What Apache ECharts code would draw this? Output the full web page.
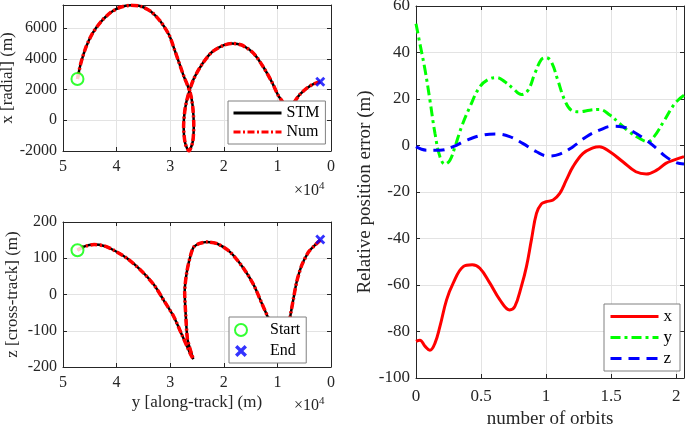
<!DOCTYPE html>
<html>
<head>
<meta charset="utf-8">
<script src="https://cdn.jsdelivr.net/npm/echarts@6/dist/echarts.min.js"></script>
<style>
  html, body { margin: 0; padding: 0; background: #fff; }
  #main { width: 685px; height: 424px; }
</style>
</head>
<body>
<div id="main"></div>
<script>
// top-left: along-track (x1e4 m) vs radial (m)
var topAlong  = [4.73, 4.67, 4.57, 4.45, 4.29, 4.11, 3.92, 3.74, 3.55, 3.36, 3.18, 3.02, 2.92, 2.83, 2.75, 2.68, 2.62, 2.58, 2.56, 2.58, 2.65, 2.72, 2.75, 2.72, 2.66, 2.56, 2.40, 2.22, 2.00, 1.85, 1.66, 1.44, 1.26, 1.10, 0.98, 0.915, 0.85, 0.79, 0.73, 0.67, 0.576, 0.45, 0.33, 0.20];
var topRadial = [2686, 3676, 4772, 5656, 6422, 7016, 7370, 7480, 7414, 7084, 6422, 5544, 4600, 3700, 2900, 2300, 1700, 900, -300, -1400, -2000, -1500, -400, 800, 1700, 2700, 3676, 4442, 4884, 4996, 4884, 4336, 3452, 2462, 1584, 1254, 850, 500, 850, 1254, 1696, 2090, 2356, 2508];

// bottom-left: along-track (x1e4 m) vs cross-track (m)
var botAlong = [4.73, 4.63, 4.42, 4.23, 4.05, 3.80, 3.55, 3.30, 3.12, 2.93, 2.78, 2.68, 2.62, 2.57, 2.63, 2.68, 2.71, 2.73, 2.69, 2.62, 2.56, 2.45, 2.31, 2.12, 1.88, 1.63, 1.44, 1.29, 1.18, 1.06, 0.96, 0.887, 0.84, 0.80, 0.762, 0.70, 0.64, 0.545, 0.42, 0.30, 0.20];
var botCross = [122, 131, 137.6, 134, 122, 99, 67, 26, -16, -62, -112, -145, -165, -178, -150, -121, -57, 7, 62, 108, 131, 141, 145, 140, 117, 72, 26, -25, -62, -110, -150, -181, -140, -100, -62, -11, 35, 81, 117, 136, 150];

// start / end markers
var startPt = { along: 4.73, radial: 2686, cross: 122 };
var endPt   = { along: 0.20, radial: 2508, cross: 152 };

// right: relative position error (m) vs number of orbits
var errXOrbit = [0, 0.03, 0.07, 0.107, 0.146, 0.184, 0.235, 0.286, 0.363, 0.432, 0.491, 0.568, 0.645, 0.72, 0.76, 0.81, 0.849, 0.887, 0.926, 0.964, 1.0, 1.054, 1.105, 1.156, 1.207, 1.284, 1.36, 1.41, 1.49, 1.59, 1.69, 1.77, 1.85, 1.92, 1.97, 2.06];
var errX      = [-84.3, -83.8, -86.4, -88.1, -85, -77.8, -66.4, -59.2, -52.1, -51.3, -52.8, -59.2, -66.4, -70.7, -69.2, -60.6, -52.1, -40.6, -29.2, -25.1, -24.2, -23.4, -20.6, -14.8, -9.1, -3.4, -1.0, -0.5, -2.7, -7.0, -11.3, -12.3, -10.6, -7.7, -6.5, -4.8];
var errYOrbit = [0, 0.03, 0.07, 0.107, 0.146, 0.184, 0.222, 0.261, 0.3, 0.35, 0.414, 0.49, 0.555, 0.619, 0.683, 0.747, 0.81, 0.862, 0.913, 0.964, 1.0, 1.04, 1.09, 1.143, 1.194, 1.258, 1.335, 1.41, 1.49, 1.565, 1.64, 1.72, 1.78, 1.83, 1.91, 1.99, 2.06];
var errY      = [52.4, 43.8, 32.4, 19.5, 5.2, -4.8, -8.0, -6.3, -0.5, 8.0, 16.6, 25.2, 28.4, 29.2, 27.4, 24.5, 21.9, 23.8, 30.9, 37.0, 37.8, 36.0, 28.1, 19.5, 15.2, 14.5, 15.2, 15.5, 13.1, 9.5, 5.9, 3.0, 1.6, 3.8, 10.9, 18.1, 21.6];
var errZOrbit = [0, 0.082, 0.184, 0.286, 0.39, 0.517, 0.619, 0.72, 0.82, 0.926, 1.015, 1.105, 1.207, 1.31, 1.41, 1.51, 1.59, 1.67, 1.77, 1.85, 1.92, 2.0, 2.06];
var errZ      = [-0.5, -2.0, -2.0, -0.5, 2.3, 4.5, 4.9, 3.8, 0.9, -2.7, -4.5, -3.7, -0.5, 3.8, 6.6, 8.3, 8.0, 5.9, 2.3, -1.3, -4.8, -7.4, -8.0];

var FONT = 'Liberation Serif, Times New Roman, serif';
var AXC = '#262626';

function pairs(a, b) {
  return a.map(function (v, i) { return [v, b[i]]; });
}

function plain(v) { return String(v); }

// main (labelled) axis
function ax(fs, extra) {
  return Object.assign({
    type: 'value',
    axisLine: { show: true, onZero: false, lineStyle: { color: AXC, width: 1 } },
    axisTick: { show: true, inside: true, length: 4, lineStyle: { color: AXC } },
    axisLabel: { color: AXC, fontSize: fs, fontFamily: FONT, formatter: plain },
    splitLine: { show: true, lineStyle: { color: '#e3e3e3', width: 1 } },
    nameLocation: 'middle',
    nameTextStyle: { color: AXC, fontFamily: FONT, fontSize: fs + 1 }
  }, extra);
}

// mirror axis for the box ticks on top / right
function mirror(extra) {
  return Object.assign({
    type: 'value',
    axisLine: { show: true, onZero: false, lineStyle: { color: AXC, width: 1 } },
    axisTick: { show: true, inside: true, length: 4, lineStyle: { color: AXC } },
    axisLabel: { show: false },
    splitLine: { show: false }
  }, extra);
}

var xCross = 'path://M0,2 L2,0 L5,3 L8,0 L10,2 L7,5 L10,8 L8,10 L5,7 L2,10 L0,8 L3,5 Z';

var legendBase = {
  orient: 'vertical',
  selectedMode: false,
  itemWidth: 48,
  itemHeight: 14,
  itemGap: 3,
  backgroundColor: '#fff',
  borderColor: '#808080',
  borderWidth: 1,
  borderRadius: 0,
  textStyle: { color: '#000', fontSize: 16, fontFamily: FONT }
};
var lineLegendItem = { opacity: 0, borderWidth: 0 };
var lineLegendLine = { width: 3 };

var sup = { a: { fontSize: 16, fontFamily: FONT, fill: AXC }, b: { fontSize: 11, fontFamily: FONT, fill: AXC, verticalAlign: 'top', padding: [0, 0, 8, 0] } };

var myChart = echarts.init(document.getElementById('main'));
myChart.setOption({
  animation: false,
  backgroundColor: '#fff',
  grid: [
    { left: 63, top: 5, width: 268, height: 146, outerBoundsMode: 'none' },
    { left: 63, top: 222, width: 268, height: 145, outerBoundsMode: 'none' },
    { left: 416, top: 6, width: 268, height: 372, outerBoundsMode: 'none' }
  ],
  xAxis: [
    ax(16, { gridIndex: 0, inverse: true, min: 0, max: 5, interval: 1, axisLabel: { color: AXC, fontSize: 16, fontFamily: FONT, margin: 8 } }),
    ax(16, { gridIndex: 1, inverse: true, min: 0, max: 5, interval: 1, name: 'y [along-track] (m)', nameGap: 27, axisLabel: { color: AXC, fontSize: 16, fontFamily: FONT, margin: 8 } }),
    ax(17, { gridIndex: 2, min: 0, max: 2.06, interval: 0.5, name: 'number of orbits', nameGap: 30, nameTextStyle: { color: AXC, fontFamily: FONT, fontSize: 19 }, axisLabel: { color: AXC, fontSize: 17, fontFamily: FONT, margin: 10, showMaxLabel: false } }),
    mirror({ gridIndex: 0, position: 'top', inverse: true, min: 0, max: 5, interval: 1 }),
    mirror({ gridIndex: 1, position: 'top', inverse: true, min: 0, max: 5, interval: 1 }),
    mirror({ gridIndex: 2, position: 'top', min: 0, max: 2.06, interval: 0.5 })
  ],
  yAxis: [
    ax(16, { gridIndex: 0, min: -2000, max: 7500, interval: 2000, name: 'x [radial] (m)', nameGap: 47, axisLabel: { color: AXC, fontSize: 16, fontFamily: FONT, margin: 6, formatter: plain, showMaxLabel: false } }),
    ax(16, { gridIndex: 1, min: -200, max: 200, interval: 100, name: 'z [cross-track] (m)', nameGap: 42, axisLabel: { color: AXC, fontSize: 16, fontFamily: FONT, margin: 6, formatter: plain } }),
    ax(17, { gridIndex: 2, min: -100, max: 60, interval: 20, name: 'Relative position error (m)', nameGap: 40, nameTextStyle: { color: AXC, fontFamily: FONT, fontSize: 19 }, axisLabel: { color: AXC, fontSize: 17, fontFamily: FONT, margin: 6, formatter: plain } }),
    mirror({ gridIndex: 0, position: 'right', min: -2000, max: 7500, interval: 2000 }),
    mirror({ gridIndex: 1, position: 'right', min: -200, max: 200, interval: 100 }),
    mirror({ gridIndex: 2, position: 'right', min: -100, max: 60, interval: 20 })
  ],
  legend: [
    Object.assign({}, legendBase, { data: ['STM', 'Num'], left: 228, top: 101, padding: [4, 6, 4, 4], itemStyle: lineLegendItem, lineStyle: lineLegendLine }),
    Object.assign({}, legendBase, { data: ['Start', 'End'], left: 229, top: 317, itemHeight: 12, itemGap: 5, padding: [5, 6, 4, 5] }),
    Object.assign({}, legendBase, { data: ['x', 'y', 'z'], left: 604, top: 304, itemGap: 4, padding: [4, 8, 4, 5], itemStyle: lineLegendItem, lineStyle: lineLegendLine, textStyle: { color: '#000', fontSize: 17, fontFamily: FONT } })
  ],
  graphic: [
    { type: 'text', left: 294, top: 181, style: { text: '{a|×10}{b|4}', rich: sup } },
    { type: 'text', left: 294, top: 396, style: { text: '{a|×10}{b|4}', rich: sup } }
  ],
  series: [
    { name: 'STM', type: 'line', xAxisIndex: 0, yAxisIndex: 0, symbol: 'none', smooth: 0.25, data: pairs(topAlong, topRadial), lineStyle: { color: '#000', width: 2.5 }, itemStyle: { color: '#000' } },
    { name: 'Num', type: 'line', xAxisIndex: 0, yAxisIndex: 0, symbol: 'none', smooth: 0.25, data: pairs(topAlong, topRadial), lineStyle: { color: '#ff0000', width: 3.5, type: [7, 2.5, 2, 2.5] }, itemStyle: { color: '#ff0000' } },
    { name: 'STM', type: 'line', xAxisIndex: 1, yAxisIndex: 1, symbol: 'none', smooth: 0.25, data: pairs(botAlong, botCross), lineStyle: { color: '#000', width: 2.5 }, itemStyle: { color: '#000' } },
    { name: 'Num', type: 'line', xAxisIndex: 1, yAxisIndex: 1, symbol: 'none', smooth: 0.25, data: pairs(botAlong, botCross), lineStyle: { color: '#ff0000', width: 3.5, type: [7, 2.5, 2, 2.5] }, itemStyle: { color: '#ff0000' } },
    { name: 'Start', type: 'scatter', xAxisIndex: 0, yAxisIndex: 0, symbol: 'emptyCircle', symbolSize: 12, z: 5, data: [[startPt.along, startPt.radial]], itemStyle: { color: '#00ff00', borderColor: '#00ff00', borderWidth: 3 } },
    { name: 'End', type: 'scatter', xAxisIndex: 0, yAxisIndex: 0, symbol: xCross, symbolSize: 10, z: 5, data: [[endPt.along, endPt.radial]], itemStyle: { color: '#0000ff' } },
    { name: 'Start', type: 'scatter', xAxisIndex: 1, yAxisIndex: 1, symbol: 'emptyCircle', symbolSize: 12, z: 5, data: [[startPt.along, startPt.cross]], itemStyle: { color: '#00ff00', borderColor: '#00ff00', borderWidth: 3 } },
    { name: 'End', type: 'scatter', xAxisIndex: 1, yAxisIndex: 1, symbol: xCross, symbolSize: 10, z: 5, data: [[endPt.along, endPt.cross]], itemStyle: { color: '#0000ff' } },
    { name: 'x', type: 'line', xAxisIndex: 2, yAxisIndex: 2, symbol: 'none', smooth: 0.4, data: pairs(errXOrbit, errX), lineStyle: { color: '#ff0000', width: 3 }, itemStyle: { color: '#ff0000' } },
    { name: 'y', type: 'line', xAxisIndex: 2, yAxisIndex: 2, symbol: 'none', smooth: 0.4, data: pairs(errYOrbit, errY), lineStyle: { color: '#00ff00', width: 3, type: [10, 4, 3, 4] }, itemStyle: { color: '#00ff00' } },
    { name: 'z', type: 'line', xAxisIndex: 2, yAxisIndex: 2, symbol: 'none', smooth: 0.4, data: pairs(errZOrbit, errZ), lineStyle: { color: '#0000ff', width: 3, type: [11, 7] }, itemStyle: { color: '#0000ff' } }
  ]
});
</script>
</body>
</html>
